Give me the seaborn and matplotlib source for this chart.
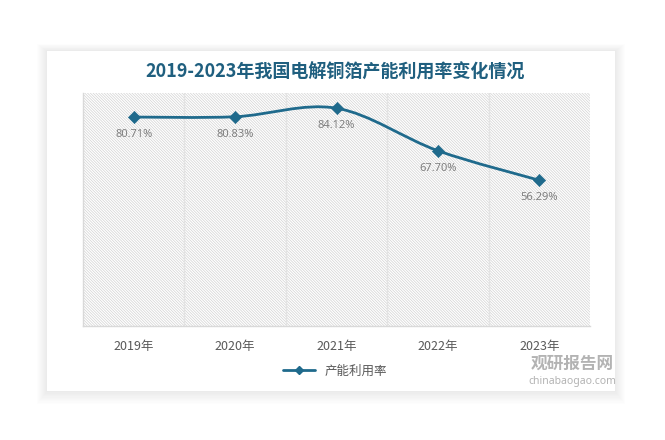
import numpy as np
import pandas as pd
import matplotlib
matplotlib.use("Agg")
import matplotlib.pyplot as plt
import seaborn as sns
from matplotlib.path import Path
from matplotlib.patches import PathPatch, Rectangle
from matplotlib.lines import Line2D

years = ["2019年", "2020年", "2021年", "2022年", "2023年"]
rate = [80.71, 80.83, 84.12, 67.70, 56.29]
series_name = "产能利用率"
title = "2019-2023年我国电解铜箔产能利用率变化情况"

sns.set_style("white")
plt.rcParams['font.family'] = ['Noto Sans CJK SC', 'DejaVu Sans']
plt.rcParams['hatch.linewidth'] = 0.5
plt.rcParams['hatch.color'] = '#d2d2d2'

line_color = "#1f6a8c"
df = pd.DataFrame({"year": years, "rate": rate})
df["pos"] = np.arange(len(df))

fig = plt.figure(figsize=(6.65, 4.40), dpi=100)
fig.patch.set_facecolor("white")

# card with a soft shadow
cx0, cy0, cx1, cy1 = 47 / 665, 1 - 391 / 440, 615 / 665, 1 - 51 / 440
for i in range(10, 0, -1):
    d = i / 665
    dy = i / 440
    fig.patches.append(Rectangle((cx0 - d, cy0 - dy * 1.3), (cx1 - cx0) + 2 * d, (cy1 - cy0) + 2 * dy,
                                 transform=fig.transFigure, facecolor="black", alpha=0.008,
                                 edgecolor="none", zorder=0))
fig.patches.append(Rectangle((cx0, cy0), cx1 - cx0, cy1 - cy0, transform=fig.transFigure,
                             facecolor="white", edgecolor="none", zorder=1))

ax = fig.add_axes([83 / 665, 1 - 326 / 440, (590 - 83) / 665, (326 - 93) / 440])
ax.set_zorder(2)
ax.patch.set_alpha(0)

# hatched plot background
ax.add_patch(Rectangle((0, 0), 1, 1, transform=ax.transAxes, facecolor="white",
                       edgecolor="#d2d2d2", hatch="\\" * 12, linewidth=0, zorder=0))

for g in np.arange(0.5, len(years) - 1, 1):
    ax.axvline(g, color="#e3e3e3", linewidth=1, zorder=1)

# smoothed line (Catmull-Rom as cubic beziers)
pts = df[["pos", "rate"]].to_numpy(dtype=float)
verts = [tuple(pts[0])]
codes = [Path.MOVETO]
n = len(pts)
for i in range(n - 1):
    p0 = pts[i - 1] if i > 0 else pts[i]
    p1, p2 = pts[i], pts[i + 1]
    p3 = pts[i + 2] if i + 2 < n else pts[i + 1]
    c1 = p1 + (p2 - p0) / 6
    c2 = p2 - (p3 - p1) / 6
    verts += [tuple(c1), tuple(c2), tuple(p2)]
    codes += [Path.CURVE4] * 3
ax.add_patch(PathPatch(Path(verts, codes), facecolor="none", edgecolor=line_color,
                       linewidth=2, zorder=3))

sns.scatterplot(data=df, x="pos", y="rate", marker="D", s=38, color=line_color,
                edgecolor=line_color, ax=ax, zorder=4, legend=False)

for x, y in zip(df["pos"], df["rate"]):
    ax.annotate(f"{y:.2f}%", (x, y), xytext=(0, -12.5), textcoords="offset points",
                ha="center", va="center", fontsize=8, color="#7f7f7f",
                family=["Noto Sans", "DejaVu Sans"])

ax.set_xlim(-0.5, len(years) - 0.5)
ax.set_ylim(0, 90)
ax.set_xticks(df["pos"])
ax.set_xticklabels(years, fontsize=9, color="#595959")
ax.set_yticks([])
ax.tick_params(axis="x", length=0, pad=10)
ax.set_xlabel("")
ax.set_ylabel("")
for side in ["top", "right"]:
    ax.spines[side].set_visible(False)
for side in ["left", "bottom"]:
    ax.spines[side].set_color("#d9d9d9")
    ax.spines[side].set_linewidth(1)

fig.text(0.504, 1 - 72 / 440, title, ha="center", va="center", fontsize=13,
         fontweight="bold", color="#1f5f7f", zorder=5)

handle = Line2D([0], [0], color=line_color, linewidth=2, marker="D", markersize=4)
fig.legend([handle], [series_name], loc="center", bbox_to_anchor=(335 / 665, 1 - 371 / 440),
           frameon=False, fontsize=9, handlelength=2.6, labelcolor="#595959")

# watermark
fig.text(572 / 665, 1 - 364 / 440, "观研报告网", ha="center", va="center", fontsize=12,
         fontweight="bold", color="#a0a0a0", alpha=0.8, zorder=5)
fig.text(572 / 665, 1 - 381 / 440, "chinabaogao.com", ha="center", va="center", fontsize=7.5,
         fontweight="bold", color="#a0a0a0", alpha=0.8, zorder=5,
         family=["Noto Sans", "DejaVu Sans"])

fig.savefig("out.png", dpi=100)
